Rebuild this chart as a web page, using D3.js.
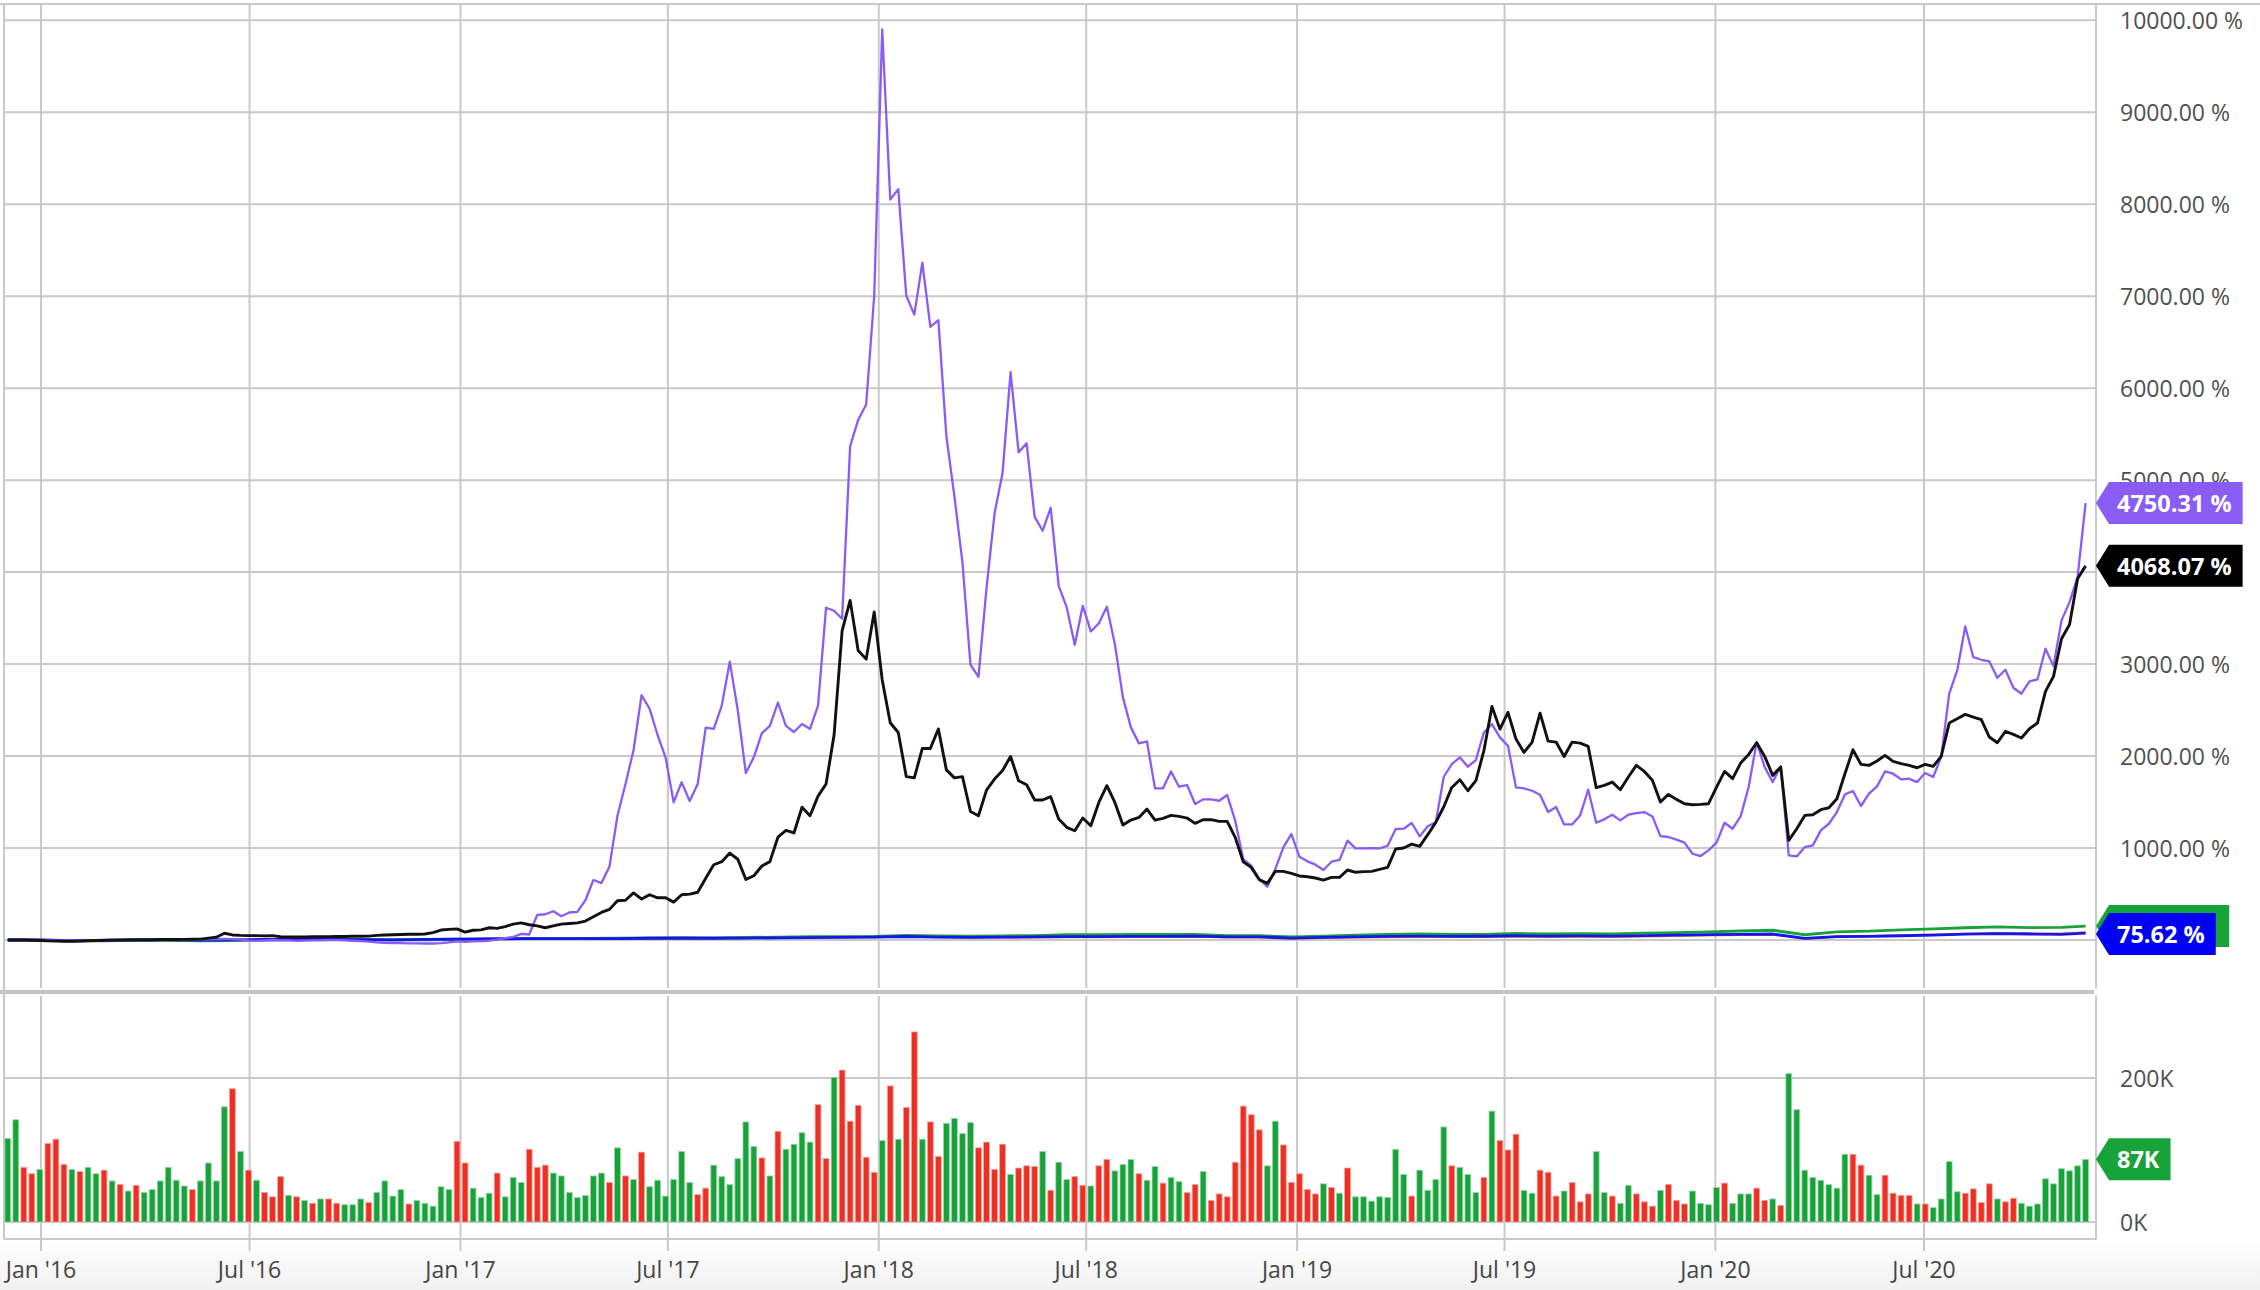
<!DOCTYPE html>
<html><head><meta charset="utf-8">
<script src="https://cdn.jsdelivr.net/npm/d3@7"></script>
<style>html,body{margin:0;padding:0;background:#fff;overflow:hidden}svg{display:block;font-family:"Open Sans",sans-serif}</style>
</head><body>
<svg id="c" width="2260" height="1290"></svg>
<script>
// ---------- DATA ----------
const startDate = "2015-12-03"; // first weekly point, then one point every 7 days
const purpleVals = [0,0,-2,-3,-2,-5,-6,-8,-7,-6,
-5,-4,-3,-2,0,2,3,5,4,3,
2,4,5,5,6,8,10,12,8,5,
-5,-10,-5,0,-3,-5,-8,-6,-5,-3,
-2,-2,-5,-8,-12,-18,-25,-30,-33,-35,
-36,-37,-38,-38,-35,-25,-15,-20,-15,-12,
-8,5,20,33,67,60,273,280,313,259,
299,306,432,652,619,798,1351,1697,2063,2661,
2515,2229,1983,1497,1717,1510,1697,2309,2295,2548,
3027,2495,1816,1989,2249,2329,2581,2329,2262,2349,
2295,2548,3613,3580,3493,5369,5655,5822,7000,9900,
8051,8164,7006,6800,7365,6667,6740,5476,4824,4105,
2994,2861,3826,4637,5077,6174,5303,5400,4600,4450,
4700,3851,3616,3210,3634,3355,3442,3623,3217,2638,
2312,2138,2159,1649,1649,1833,1667,1685,1478,1529,
1529,1514,1576,1297,880,808,663,580,772,1007,
1152,906,855,819,761,851,870,1080,996,996,
1000,996,1025,1207,1210,1272,1127,1236,1279,1775,
1913,1986,1884,1957,2257,2348,2203,2112,1659,1649,
1623,1580,1391,1446,1257,1257,1355,1634,1275,1312,
1362,1301,1362,1380,1391,1344,1130,1120,1091,1058,
938,913,975,1058,1275,1210,1344,1663,2152,1880,
1717,1888,920,909,1011,1029,1192,1264,1391,1583,
1620,1457,1591,1670,1833,1808,1746,1754,1717,1815,
1772,1989,2678,2931,3409,3076,3047,3029,2851,2938,
2743,2678,2812,2833,3167,2978,3475,3674,3946,4750.31];

const blackVals = [0,0,0,-3,-5,-10,-12,-15,-15,-12,
-8,-5,-3,0,0,2,3,3,3,5,
5,5,7,8,10,20,30,73,55,50,
48,48,45,47,35,32,32,33,35,35,
37,38,38,40,40,42,50,55,57,60,
62,62,65,80,108,115,120,86,106,110,
133,126,146,173,186,166,153,133,153,173,
180,186,206,253,300,333,426,432,512,446,
492,459,459,412,492,499,519,672,818,852,
945,878,659,699,805,852,1118,1191,1164,1444,
1351,1564,1697,2229,3360,3693,3147,3054,3566,2828,
2362,2256,1776,1763,2083,2083,2295,1850,1763,1776,
1397,1351,1630,1750,1843,1996,1732,1688,1522,1522,
1558,1315,1225,1188,1326,1243,1496,1678,1496,1250,
1304,1333,1424,1304,1322,1355,1344,1326,1268,1308,
1308,1290,1290,1116,851,790,656,616,746,746,
725,696,688,674,652,681,681,761,736,743,
746,768,790,989,1000,1043,1018,1145,1279,1449,
1659,1743,1623,1732,2058,2540,2293,2475,2185,2040,
2149,2467,2163,2152,1996,2152,2141,2105,1656,1681,
1717,1634,1772,1899,1833,1736,1500,1583,1529,1482,
1471,1475,1482,1663,1833,1754,1924,2018,2145,1996,
1790,1880,1083,1210,1355,1362,1417,1438,1536,1808,
2069,1909,1899,1946,2007,1942,1917,1899,1873,1909,
1888,1996,2359,2406,2453,2424,2395,2207,2145,2268,
2236,2196,2297,2359,2703,2866,3275,3431,3928,4068.07];

// weekly volume in thousands
const volumeK = [116,142,76,67,73,109,115,80,73,70,
76,67,72,57,52,43,51,41,45,57,
76,58,50,45,57,82,57,160,185,98,
72,58,41,35,63,37,35,30,26,32,
32,26,24,24,32,27,41,57,36,45,
25,30,26,22,49,45,112,82,47,34,
40,68,35,62,55,101,76,79,68,64,
41,34,37,64,68,55,103,64,59,97,
49,58,36,59,98,55,38,
47,79,63,52,88,139,105,89,64,126,
101,108,124,111,163,88,201,211,140,162,
90,69,113,189,115,159,264,115,139,91,
137,144,123,138,103,111,73,108,66,75,
78,77,98,44,83,59,63,51,50,78,
87,71,80,87,67,58,77,54,62,56,
41,52,70,30,39,35,83,161,149,128,
78,140,107,55,67,45,39,53,48,40,
75,35,35,29,35,34,101,
66,36,72,44,59,132,78,76,66,41,
62,154,113,100,122,44,40,72,69,36,
43,55,28,39,98,41,36,26,51,39,
28,22,44,52,30,25,43,26,24,48,
54,26,39,39,47,30,32,23,206,156,
72,62,58,52,47,94,94,79,65,38,
65,40,37,37,25,25,20,32,84,42,
40,46,27,53,32,28,33,26,22,25,
60,53,74,71,78,87];
// g = up week (green), r = down week (red)
const volumeDir = ("ggrrgrrrgr"+"ggrgrgrggg"+"gggrggggrg"+"rgrrrgrgrg"+"rrgggrgggg"+"rggggg"+"rrgggrgggr"+"rrgg"+"gggggrgr"+"grgg"+
"ggggrrggg"+"gg"+"grgrggggr"+"rgrrrrrgrg"+"rrgrrgggg"+"rrrrgrrr"+"grggrrgrrgggrgg"+"rgg"+"rrgrrrrr"+"rrgg"+"rrrrrgrgrggggg"+
"ggrggggrgg"+"grgrrrggrr"+"rgrrrggrgg"+"rrrgrrrggg"+"grgggrrgrg"+"gggggggrrg"+"grrrrgrggg"+"grrrrgrrgg"+"gggggg").split("");

// broad market lines, one reading every 4 weeks (week index) plus the last week
const smallWeeks = [0,4,8,12,16,20,24,28,32,36,40,44,48,52,56,60,64,68,72,76,80,84,88,92,96,100,104,108,112,116,120,124,128,132,136,140,144,148,152,156,160,164,168,172,176,180,184,188,192,196,200,204,208,212,216,220,224,228,232,236,240,244,248,252,256,259];
const greenVals = [0,-1,-8,-9,-5,-3,-8,-6,-1,3,4,4,0,1,5,9,14,15,17,21,22,25,23,28,31,36,36,39,51,45,43,45,48,57,59,60,60,62,46,46,33,43,52,60,65,61,62,71,66,68,65,74,81,88,98,106,57,89,96,111,122,133,142,134,138,151.93];
const orangeVals = [0,-1,-9,-6,-1,1,-1,0,4,5,4,3,1,8,11,13,17,15,14,16,20,20,20,21,26,28,32,33,40,31,26,28,29,31,31,34,35,37,29,29,16,24,30,33,36,34,34,39,35,38,35,40,45,51,56,60,15,38,42,50,58,67,73,70,68,82];
const blueVals = [0,0,-8,-5,-1,2,0,1,6,7,6,5,2,7,10,12,15,14,15,15,19,19,19,20,24,26,29,31,38,32,29,31,33,36,36,39,40,42,34,34,21,29,35,39,42,40,41,46,42,45,42,48,53,58,62,65,18,37,39,46,54,63,69,65,61,75.62];

const pctTicks = [0,1000,2000,3000,4000,5000,6000,7000,8000,9000,10000];
const volTicks = [0,200];

// ---------- DRAW ----------
const W = 2260, H = 1290;
const L = 4, R = 2096, T = 4, MB = 988, VT = 996, V0 = 1222, VB = 1239;
const svg = d3.select("#c");
const t0 = new Date(startDate + "T00:00:00Z");
const dateAt = i => d3.utcDay.offset(t0, 7 * i);

const x = d3.scaleUtc().domain([new Date("2016-01-01T00:00:00Z"), new Date("2020-07-01T00:00:00Z")]).range([41, 1924]);
const y = d3.scaleLinear().domain([0, 10000]).range([940, 20.3]);
const yv = d3.scaleLinear().domain([0, 200]).range([V0, 1078]);
const GRID = "#c9c9c9";
const last = a => a[a.length - 1];

const defs = svg.append("defs");
const grad = defs.append("linearGradient").attr("id", "bg").attr("x1", 0).attr("y1", 0).attr("x2", 0).attr("y2", 1);
grad.append("stop").attr("offset", "0%").attr("stop-color", "#ffffff");
grad.append("stop").attr("offset", "100%").attr("stop-color", "#f1f1f1");
defs.append("clipPath").attr("id", "cm").append("rect").attr("x", L).attr("y", T).attr("width", R - L).attr("height", MB - T);
defs.append("clipPath").attr("id", "cv").append("rect").attr("x", L).attr("y", VT).attr("width", R - L).attr("height", V0 - VT);

svg.append("rect").attr("x", 0).attr("y", VB).attr("width", W).attr("height", H - VB).attr("fill", "url(#bg)");

// horizontal grid (main)
svg.append("g").selectAll("line").data(pctTicks).join("line")
  .attr("x1", L).attr("x2", R).attr("y1", d => y(d)).attr("y2", d => y(d))
  .attr("stroke", GRID).attr("stroke-width", 2);
// vertical grid
const xt = x.ticks(d3.utcMonth.every(6));
const gv = svg.append("g");
gv.selectAll("line.a").data(xt).join("line").attr("class", "a")
  .attr("x1", d => x(d)).attr("x2", d => x(d)).attr("y1", T).attr("y2", MB)
  .attr("stroke", GRID).attr("stroke-width", 2);
gv.selectAll("line.b").data(xt).join("line").attr("class", "b")
  .attr("x1", d => x(d)).attr("x2", d => x(d)).attr("y1", VT).attr("y2", 1251)
  .attr("stroke", GRID).attr("stroke-width", 2);
// volume grid
svg.append("g").selectAll("line").data(volTicks).join("line")
  .attr("x1", L).attr("x2", R).attr("y1", d => yv(d)).attr("y2", d => yv(d))
  .attr("stroke", GRID).attr("stroke-width", 2);

// frame
svg.append("line").attr("x1", 0).attr("x2", W).attr("y1", T).attr("y2", T).attr("stroke", GRID).attr("stroke-width", 2);
svg.append("line").attr("x1", L).attr("x2", L).attr("y1", T).attr("y2", VB).attr("stroke", GRID).attr("stroke-width", 2);
svg.append("line").attr("x1", R).attr("x2", R).attr("y1", T).attr("y2", MB).attr("stroke", GRID).attr("stroke-width", 2);
svg.append("line").attr("x1", R).attr("x2", R).attr("y1", VT).attr("y2", VB).attr("stroke", GRID).attr("stroke-width", 2);
svg.append("rect").attr("x", 0).attr("y", 990).attr("width", R - 2).attr("height", 4).attr("fill", "#c4c4c4");
svg.append("line").attr("x1", L).attr("x2", R).attr("y1", VB).attr("y2", VB).attr("stroke", GRID).attr("stroke-width", 2);

// volume bars
svg.append("g").attr("clip-path", "url(#cv)").selectAll("rect").data(volumeK).join("rect")
  .attr("x", (d, i) => x(dateAt(i)) - 2.9).attr("width", 5.8)
  .attr("y", d => yv(d)).attr("height", d => V0 - yv(d))
  .attr("fill", (d, i) => volumeDir[i] === "r" ? "#ec3024" : "#18a23a")
  .attr("stroke", (d, i) => volumeDir[i] === "r" ? "#f6a39d" : "#9bd8a9").attr("stroke-width", 0.8);

// lines
const gl = svg.append("g").attr("clip-path", "url(#cm)");
function drawLine(vals, idx, color, w) {
  const pts = vals.map((v, k) => [x(dateAt(idx ? idx[k] : k)), y(v)]);
  gl.append("path").attr("d", d3.line()(pts)).attr("fill", "none")
    .attr("stroke", color).attr("stroke-width", w).attr("stroke-linejoin", "round");
}
drawLine(orangeVals, smallWeeks, "#f08a1c", 2.4);
drawLine(greenVals, smallWeeks, "#19a23c", 2.8);
drawLine(blueVals, smallWeeks, "#1515f0", 2.8);
drawLine(purpleVals, null, "#8a5cf6", 2.3);
drawLine(blackVals, null, "#111111", 2.9);

// value tags (end-of-series markers, drawn over the axis)
const tags = [
  {cy: y(last(purpleVals)), label: d3.format(".2f")(last(purpleVals)) + " %", fill: "#8a5cf6", text: true},
  {cy: y(last(blackVals)), label: d3.format(".2f")(last(blackVals)) + " %", fill: "#000000", text: true},
  {cy: y(last(greenVals)), label: d3.format(".2f")(last(greenVals)) + " %", fill: "#18a23a", text: false},
  {cy: y(last(blueVals)) + 1, label: d3.format(".2f")(last(blueVals)) + " %", fill: "#0000f5", text: true},
  {cy: yv(last(volumeK)), label: last(volumeK) + "K", fill: "#18a23a", text: true}
];
const covered = v => tags.some(t => t.text && Math.abs(y(v) - t.cy) < 20);

// axis labels
svg.append("g").selectAll("text").data(pctTicks.filter(d => !covered(d))).join("text")
  .attr("x", 2120).attr("y", d => y(d)).attr("dominant-baseline", "central")
  .attr("font-size", 23).attr("fill", "#505050").text(d => d3.format(".2f")(d) + " %");
svg.append("g").selectAll("text").data(volTicks).join("text")
  .attr("x", 2120).attr("y", d => yv(d)).attr("dominant-baseline", "central")
  .attr("font-size", 23).attr("fill", "#505050").text(d => d + "K");
const fmt = d3.utcFormat("%b '%y");
svg.append("g").selectAll("text").data(xt).join("text")
  .attr("x", d => x(d)).attr("y", 1269).attr("dominant-baseline", "central").attr("text-anchor", "middle")
  .attr("font-size", 23).attr("fill", "#454545").text(d => fmt(d));

// measure text widths for tag boxes
const probe = svg.append("text").attr("font-size", 23.5).attr("font-weight", 700).attr("visibility", "hidden");
function drawTag(t) {
  probe.text(t.label);
  const right = 2117 + probe.node().getComputedTextLength() + 11;
  const g = svg.append("g");
  g.append("path").attr("fill", t.fill)
    .attr("d", `M${R},${t.cy} L${R + 13},${t.cy - 21} L${right},${t.cy - 21} L${right},${t.cy + 21} L${R + 13},${t.cy + 21} Z`);
  if (t.text) {
    g.append("text").attr("x", 2117).attr("y", t.cy).attr("dominant-baseline", "central")
      .attr("font-size", 23.5).attr("font-weight", 700).attr("fill", "#fff").text(t.label);
  }
}
tags.forEach(drawTag);
probe.remove();
</script>
</body></html>
